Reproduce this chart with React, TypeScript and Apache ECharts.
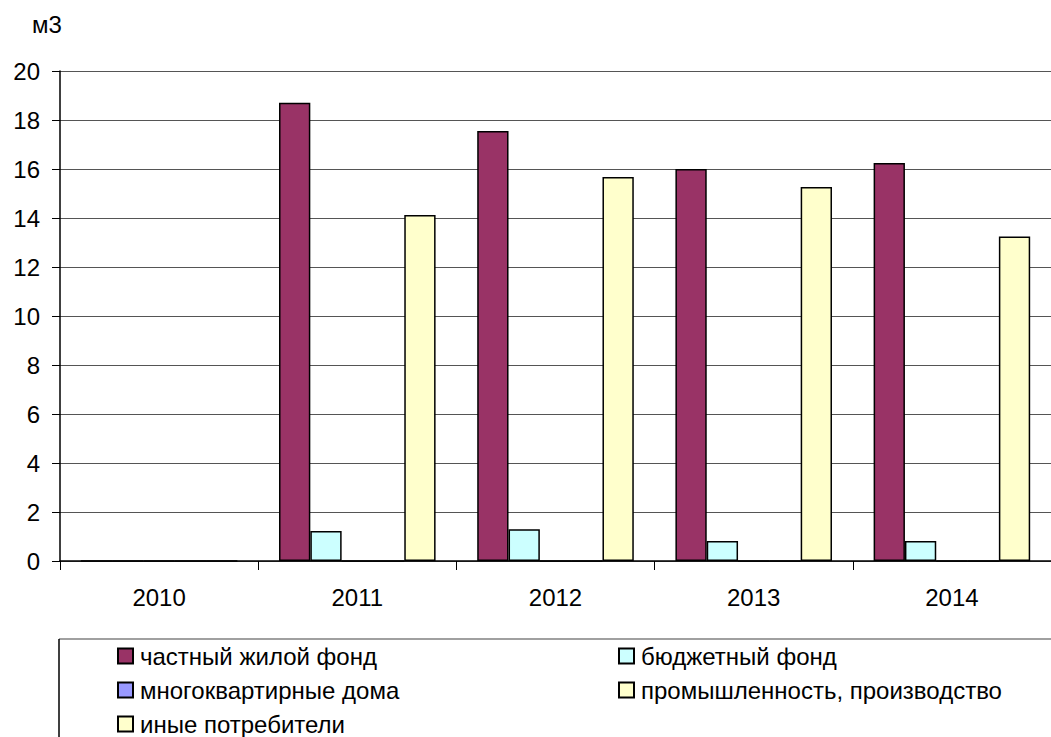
import React, { useEffect, useRef } from "react";
import * as echarts from "echarts";

const categories = ["2010", "2011", "2012", "2013", "2014"];
const seriesNames = [
  "частный жилой фонд",
  "бюджетный фонд",
  "многоквартирные дома",
  "промышленность, производство",
  "иные потребители",
];
const privateHousing = [0, 18.7, 17.55, 16.0, 16.25];
const budgetFund = [0, 1.22, 1.3, 0.82, 0.82];
const apartmentBuildings = [0, 0, 0, 0, 0];
const industry = [0, 0, 0, 0, 0];
const otherConsumers = [0, 14.12, 15.67, 15.27, 13.24];
const colors = ["#993366", "#CCFFFF", "#9999FF", "#FFFFCC", "#FFFFCC"];
const yTicks = { min: 0, max: 20, interval: 2 };

export default function App() {
  const ref = useRef<HTMLDivElement>(null);
  useEffect(() => {
    if (!ref.current) return;
    const chart = echarts.init(ref.current, null, { renderer: "svg" });
    const values = [privateHousing, budgetFund, apartmentBuildings, industry, otherConsumers];
    const font = "'Liberation Sans', Arial, sans-serif";
    const legendPos = [
      { left: 117, top: 644 },
      { left: 618, top: 644 },
      { left: 117, top: 678 },
      { left: 618, top: 678 },
      { left: 117, top: 712 },
    ];
    chart.setOption({
      animation: false,
      textStyle: { fontFamily: font },
      grid: { left: 60, top: 71, width: 1005, height: 490, containLabel: false },
      xAxis: {
        type: "category",
        data: categories,
        axisLine: { lineStyle: { color: "#000", width: 1.5 } },
        axisTick: { show: true, length: 9, lineStyle: { color: "#000" } },
        axisLabel: { color: "#000", fontSize: 24, margin: 24, fontFamily: font },
      },
      yAxis: {
        type: "value",
        min: yTicks.min,
        max: yTicks.max,
        interval: yTicks.interval,
        axisLine: { show: true, lineStyle: { color: "#000", width: 1.5 } },
        axisTick: { show: true, length: 8, lineStyle: { color: "#000" } },
        axisLabel: { color: "#000", fontSize: 24, margin: 20, fontFamily: font },
        splitLine: { show: true, lineStyle: { color: "#555", width: 1 } },
      },
      legend: seriesNames.map((name, i) => ({
        data: [name],
        left: legendPos[i].left,
        top: legendPos[i].top,
        padding: 0,
        itemWidth: 15,
        itemHeight: 15,
        icon: "rect",
        itemStyle: { borderColor: "#000", borderWidth: 2 },
        textStyle: {
          fontSize: 24,
          lineHeight: 24,
          color: "#000",
          fontFamily: font,
          padding: [0, 0, 0, 2],
        },
      })),
      graphic: [
        {
          type: "line",
          shape: { x1: 59, y1: 639, x2: 1051, y2: 639 },
          style: { stroke: "#808080", lineWidth: 1.5 },
        },
        {
          type: "line",
          shape: { x1: 59, y1: 639, x2: 59, y2: 737 },
          style: { stroke: "#000", lineWidth: 1.5 },
        },
        {
          type: "text",
          left: 32,
          top: 12,
          style: { text: "м3", fontSize: 24, fill: "#000", fontFamily: font },
        },
      ],
      series: seriesNames.map((name, i) => ({
        name,
        type: "bar",
        data: values[i],
        barGap: "0%",
        barCategoryGap: "21%",
        itemStyle: { color: colors[i], borderColor: "#000", borderWidth: 1.5 },
      })),
    });
    return () => chart.dispose();
  }, []);
  return (
    <div
      ref={ref}
      style={{ position: "fixed", left: 0, top: 0, width: 1051, height: 737, background: "#fff" }}
    />
  );
}
